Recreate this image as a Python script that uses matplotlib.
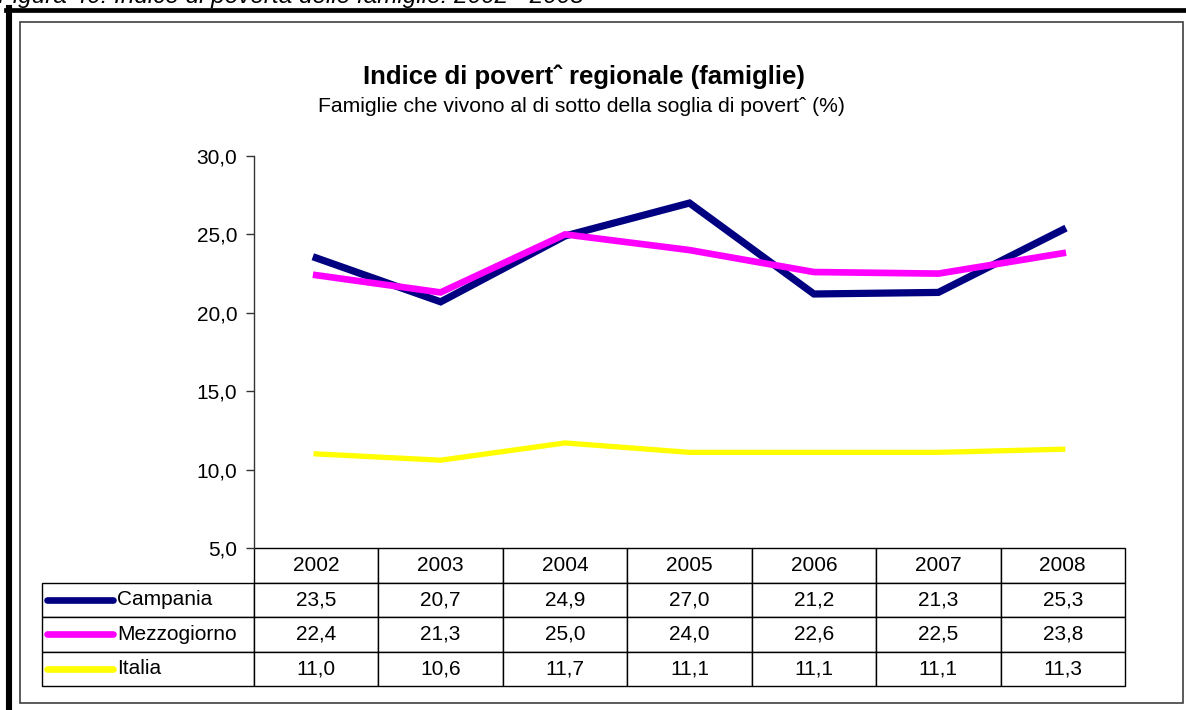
import numpy as np
import matplotlib
matplotlib.use('Agg')
import matplotlib.pyplot as plt
from matplotlib.table import Table
from matplotlib.lines import Line2D
from matplotlib.patches import Rectangle
from matplotlib.ticker import FuncFormatter

plt.rcParams['font.family'] = ['Liberation Sans', 'DejaVu Sans']

years = ['2002', '2003', '2004', '2005', '2006', '2007', '2008']
campania = [23.5, 20.7, 24.9, 27.0, 21.2, 21.3, 25.3]
mezzogiorno = [22.4, 21.3, 25.0, 24.0, 22.6, 22.5, 23.8]
italia = [11.0, 10.6, 11.7, 11.1, 11.1, 11.1, 11.3]
names = ['Campania', 'Mezzogiorno', 'Italia']
colors = ['#000080', '#FF00FF', '#FFFF00']
widths = [5.2, 4.8, 3.8]

W, H = 1186, 710
def fx(px):
    return px / W
def fy(py):
    return 1 - py / H

fig = plt.figure(figsize=(W / 100, H / 100), dpi=100)

# frames
fig.add_artist(Line2D([fx(6), 1.0], [fy(10), fy(10)], color='black', lw=3.4))
fig.add_artist(Line2D([fx(9), fx(9)], [fy(8), 0.0], color='black', lw=4.4))
fig.add_artist(Rectangle((fx(20), fy(703)), fx(1183) - fx(20), (703 - 22) / H,
                         fill=False, edgecolor='#404040', lw=1.2))

fig.text(fx(-2), fy(3), 'Figura 40: Indice di povertà delle famiglie: 2002 - 2008',
         style='italic', fontsize=17.5, va='baseline', ha='left')

fig.text(fx(584), fy(77), 'Indice di povertˆ regionale (famiglie)',
         fontsize=18.5, fontweight='bold', ha='center', va='center')
fig.text(fx(581), fy(106), 'Famiglie che vivono al di sotto della soglia di povertˆ (%)',
         fontsize=15.2, ha='center', va='center')

ax = fig.add_axes([fx(254), fy(548), (1125 - 254) / W, (548 - 156) / H])
x = np.arange(len(years))
series = [campania, mezzogiorno, italia]
for vals, c, lw in zip(series, colors, widths):
    ax.plot(x, vals, color=c, lw=lw, solid_joinstyle='miter')

ax.set_xlim(-0.5, len(years) - 0.5)
ax.set_ylim(5, 30)
ax.set_yticks([5, 10, 15, 20, 25, 30])
ax.yaxis.set_major_formatter(FuncFormatter(lambda v, p: f'{v:.1f}'.replace('.', ',')))
ax.tick_params(axis='y', direction='out', length=6, width=1, labelsize=15, pad=6,
               color='#333333')
ax.set_xticks([])
for s in ['top', 'right', 'bottom']:
    ax.spines[s].set_visible(False)
ax.spines['left'].set_linewidth(1)
ax.spines['left'].set_color('#333333')

# data table below the plot
ax_w = 1125 - 254
ax_h = 548 - 156
x0 = (42 - 254) / ax_w
tw = (1125 - 42) / ax_w
th = (686 - 548) / ax_h
tb = Table(ax, bbox=[x0, -th, tw, th])
lab_w = 212 / 1083
col_w = (871 / 7) / 1083
rh = 1 / 4
hc = tb.add_cell(0, 0, lab_w, rh, text='')
hc.visible_edges = 'open'
for j, yr in enumerate(years):
    tb.add_cell(0, j + 1, col_w, rh, text=yr, loc='center')
for i, vals in enumerate(series):
    tb.add_cell(i + 1, 0, lab_w, rh, text='')
    for j, v in enumerate(vals):
        tb.add_cell(i + 1, j + 1, col_w, rh, text=f'{v:.1f}'.replace('.', ','), loc='center')
tb.auto_set_font_size(False)
for cell in tb.get_celld().values():
    cell.set_linewidth(1)
    cell.get_text().set_fontsize(15)
ax.add_table(tb)

for i, (n, c) in enumerate(zip(names, colors)):
    yc = -th + th - (i + 1.5) * th / 4
    ax.plot([(47 - 254) / ax_w, (113 - 254) / ax_w], [yc, yc], color=c, lw=4.8,
            solid_capstyle='round', transform=ax.transAxes, clip_on=False)
    ax.text((117 - 254) / ax_w, yc, n, fontsize=15, ha='left', va='center',
            transform=ax.transAxes)

fig.savefig('out.png', dpi=100)
